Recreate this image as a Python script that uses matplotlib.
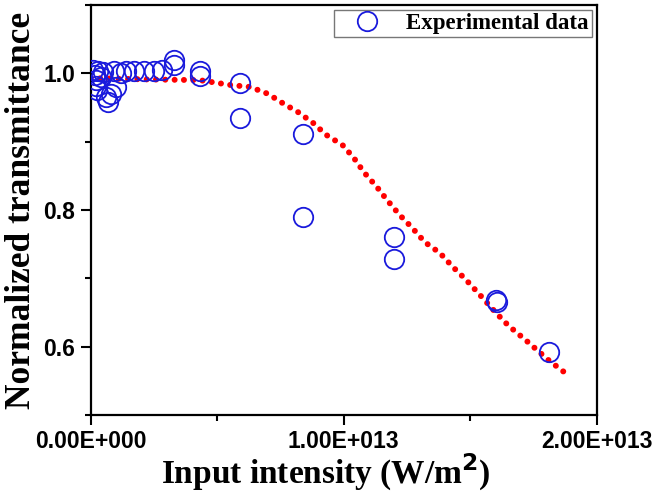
import numpy as np
import matplotlib
matplotlib.use('Agg')
from matplotlib import pyplot as plt
from matplotlib.ticker import FixedLocator, MultipleLocator

# experimental points (intensity in 1e13 W/m^2, normalized transmittance)
exp_x = [0.01, 0.015, 0.02, 0.02, 0.025, 0.03, 0.04, 0.05, 0.06, 0.07,
         0.08, 0.09, 0.10, 0.12, 0.14, 0.17, 0.21, 0.25, 0.28, 0.33,
         0.33, 0.43, 0.43, 0.59, 0.59, 0.84, 0.84, 1.20, 1.20, 1.60,
         1.605, 1.81]
exp_y = [1.005, 0.998, 0.990, 0.982, 0.975, 1.003, 0.995, 1.002, 0.965, 0.958,
         0.970, 1.004, 0.980, 1.000, 1.003, 1.004, 1.004, 1.004, 1.005, 1.019,
         1.012, 1.004, 0.996, 0.986, 0.934, 0.911, 0.790, 0.760, 0.728, 0.668,
         0.666, 0.592]

# fitted curve
fit_x = [0.0, 0.23, 0.43, 0.55, 0.63, 0.70, 0.76, 0.82, 0.88, 0.93,
         0.995, 1.04, 1.08, 1.13, 1.17, 1.22, 1.27, 1.32, 1.38, 1.43,
         1.48, 1.53, 1.60, 1.65, 1.73, 1.81, 1.87]
fit_y = [0.993, 0.991, 0.990, 0.983, 0.980, 0.970, 0.956, 0.943, 0.927, 0.910,
         0.895, 0.876, 0.855, 0.834, 0.815, 0.793, 0.774, 0.753, 0.737, 0.717,
         0.699, 0.679, 0.650, 0.631, 0.606, 0.580, 0.563]

x_ticks = [0.0, 1.0e13, 2.0e13]
x_ticklabels = ['0.00E+000', '1.00E+013', '2.00E+013']
y_ticks = [0.6, 0.8, 1.0]
y_ticklabels = ['0.6', '0.8', '1.0']

fig = plt.figure(figsize=(6.53, 4.97), dpi=100)
ax = fig.add_axes([0.139, 0.165, 0.775, 0.825])

ax.plot(np.array(fit_x) * 1e13, fit_y, color='red', lw=4.3,
        linestyle=(0, (0.01, 1.55)), dash_capstyle='round', zorder=2)
ax.plot(np.array(exp_x) * 1e13, exp_y, 'o', mfc='none', mec='#1a1adc',
        mew=1.3, ms=14, ls='none', label='Experimental data', zorder=3)

ax.set_xlim(0, 2e13)
ax.set_ylim(0.5, 1.1)

ax.xaxis.set_major_locator(FixedLocator(x_ticks))
ax.set_xticklabels(x_ticklabels)
ax.xaxis.set_minor_locator(MultipleLocator(0.5e13))
ax.yaxis.set_major_locator(FixedLocator(y_ticks))
ax.set_yticklabels(y_ticklabels)
ax.yaxis.set_minor_locator(MultipleLocator(0.1))

for lab in ax.get_xticklabels() + ax.get_yticklabels():
    lab.set_fontfamily('Liberation Sans')
    lab.set_fontweight('bold')
    lab.set_fontsize(16.5)

ax.tick_params(which='major', direction='out', length=7, width=1.5,
               top=False, right=False, pad=4)
ax.tick_params(which='minor', direction='out', length=4, width=1.5,
               top=False, right=False)
for s in ax.spines.values():
    s.set_linewidth(1.6)

ax.set_xlabel('Input intensity (W/m$^\\mathbf{2}$)', fontsize=24,
              fontfamily='Liberation Serif', fontweight='bold')
ax.xaxis.set_label_coords(0.465, -0.09)
ax.set_ylabel('Normalized transmittance', fontsize=25.5,
              fontfamily='Liberation Serif', fontweight='bold', labelpad=4)

leg = ax.legend(loc='upper right', fancybox=False, edgecolor='#555555',
                prop={'family': 'Liberation Serif', 'weight': 'bold', 'size': 16.5},
                borderaxespad=0.2, handlelength=2.6, handletextpad=0.4,
                borderpad=0.15)
leg.get_frame().set_linewidth(1.0)

fig.savefig('out.png', dpi=100)
